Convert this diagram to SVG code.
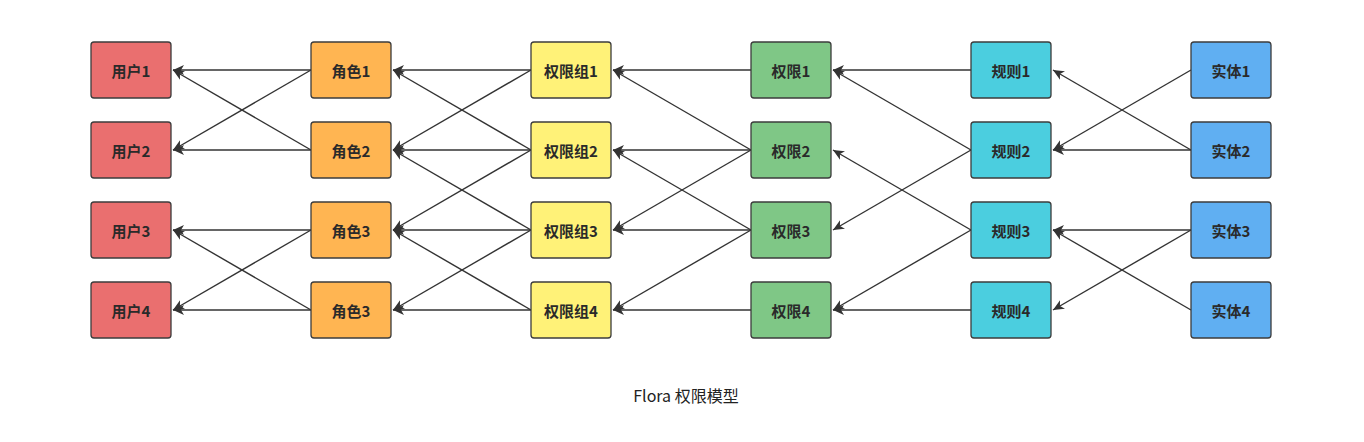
<svg xmlns="http://www.w3.org/2000/svg" width="1364" height="442" viewBox="0 0 1364 442">
<style>
.n{stroke:#3c3c3c;stroke-width:1.3}
.t{font-family:"Noto Sans CJK SC","Noto Sans",sans-serif;font-size:15px;font-weight:600;fill:#2a2a2a;text-anchor:middle;dominant-baseline:central}
.e line{stroke:#333;stroke-width:1.4;marker-end:url(#arr)}
.red{fill:#EA6F6F}.org{fill:#FFB552}.yel{fill:#FFF278}.grn{fill:#7FC786}.cyn{fill:#4BCEDF}.blu{fill:#60AFF2}
</style>
<defs>
<marker id="arr" markerUnits="userSpaceOnUse" markerWidth="12" markerHeight="10" refX="11" refY="5" orient="auto">
<path d="M0,0 L11,5 L0,10 L3,5 z" fill="#333"/>
</marker>
</defs>
<rect width="1364" height="442" fill="#fff"/>
<g id="connectors" class="e">
<line x1="311" y1="70" x2="173" y2="70"/>
<line x1="311" y1="70" x2="173" y2="150"/>
<line x1="311" y1="150" x2="173" y2="70"/>
<line x1="311" y1="150" x2="173" y2="150"/>
<line x1="311" y1="230" x2="173" y2="230"/>
<line x1="311" y1="230" x2="173" y2="310"/>
<line x1="311" y1="310" x2="173" y2="230"/>
<line x1="311" y1="310" x2="173" y2="310"/>
<line x1="531" y1="70" x2="393" y2="70"/>
<line x1="531" y1="70" x2="393" y2="150"/>
<line x1="531" y1="150" x2="393" y2="70"/>
<line x1="531" y1="150" x2="393" y2="150"/>
<line x1="531" y1="150" x2="393" y2="230"/>
<line x1="531" y1="230" x2="393" y2="150"/>
<line x1="531" y1="230" x2="393" y2="230"/>
<line x1="531" y1="230" x2="393" y2="310"/>
<line x1="531" y1="310" x2="393" y2="230"/>
<line x1="531" y1="310" x2="393" y2="310"/>
<line x1="751" y1="70" x2="613" y2="70"/>
<line x1="751" y1="150" x2="613" y2="70"/>
<line x1="751" y1="150" x2="613" y2="150"/>
<line x1="751" y1="150" x2="613" y2="230"/>
<line x1="751" y1="230" x2="613" y2="150"/>
<line x1="751" y1="230" x2="613" y2="230"/>
<line x1="751" y1="230" x2="613" y2="310"/>
<line x1="751" y1="310" x2="613" y2="310"/>
<line x1="971" y1="70" x2="833" y2="70"/>
<line x1="971" y1="150" x2="833" y2="70"/>
<line x1="971" y1="150" x2="833" y2="230"/>
<line x1="971" y1="230" x2="833" y2="150"/>
<line x1="971" y1="230" x2="833" y2="310"/>
<line x1="971" y1="310" x2="833" y2="310"/>
<line x1="1191" y1="70" x2="1053" y2="150"/>
<line x1="1191" y1="150" x2="1053" y2="70"/>
<line x1="1191" y1="150" x2="1053" y2="150"/>
<line x1="1191" y1="230" x2="1053" y2="230"/>
<line x1="1191" y1="230" x2="1053" y2="310"/>
<line x1="1191" y1="310" x2="1053" y2="230"/>
</g>
<g id="user1"><rect class="n red" x="91" y="42" width="80" height="56" rx="3"/><text class="t" x="131" y="70">用户1</text></g>
<g id="user2"><rect class="n red" x="91" y="122" width="80" height="56" rx="3"/><text class="t" x="131" y="150">用户2</text></g>
<g id="user3"><rect class="n red" x="91" y="202" width="80" height="56" rx="3"/><text class="t" x="131" y="230">用户3</text></g>
<g id="user4"><rect class="n red" x="91" y="282" width="80" height="56" rx="3"/><text class="t" x="131" y="310">用户4</text></g>
<g id="role1"><rect class="n org" x="311" y="42" width="80" height="56" rx="3"/><text class="t" x="351" y="70">角色1</text></g>
<g id="role2"><rect class="n org" x="311" y="122" width="80" height="56" rx="3"/><text class="t" x="351" y="150">角色2</text></g>
<g id="role3"><rect class="n org" x="311" y="202" width="80" height="56" rx="3"/><text class="t" x="351" y="230">角色3</text></g>
<g id="role4"><rect class="n org" x="311" y="282" width="80" height="56" rx="3"/><text class="t" x="351" y="310">角色3</text></g>
<g id="pgroup1"><rect class="n yel" x="531" y="42" width="80" height="56" rx="3"/><text class="t" x="571" y="70">权限组1</text></g>
<g id="pgroup2"><rect class="n yel" x="531" y="122" width="80" height="56" rx="3"/><text class="t" x="571" y="150">权限组2</text></g>
<g id="pgroup3"><rect class="n yel" x="531" y="202" width="80" height="56" rx="3"/><text class="t" x="571" y="230">权限组3</text></g>
<g id="pgroup4"><rect class="n yel" x="531" y="282" width="80" height="56" rx="3"/><text class="t" x="571" y="310">权限组4</text></g>
<g id="perm1"><rect class="n grn" x="751" y="42" width="80" height="56" rx="3"/><text class="t" x="791" y="70">权限1</text></g>
<g id="perm2"><rect class="n grn" x="751" y="122" width="80" height="56" rx="3"/><text class="t" x="791" y="150">权限2</text></g>
<g id="perm3"><rect class="n grn" x="751" y="202" width="80" height="56" rx="3"/><text class="t" x="791" y="230">权限3</text></g>
<g id="perm4"><rect class="n grn" x="751" y="282" width="80" height="56" rx="3"/><text class="t" x="791" y="310">权限4</text></g>
<g id="rule1"><rect class="n cyn" x="971" y="42" width="80" height="56" rx="3"/><text class="t" x="1011" y="70">规则1</text></g>
<g id="rule2"><rect class="n cyn" x="971" y="122" width="80" height="56" rx="3"/><text class="t" x="1011" y="150">规则2</text></g>
<g id="rule3"><rect class="n cyn" x="971" y="202" width="80" height="56" rx="3"/><text class="t" x="1011" y="230">规则3</text></g>
<g id="rule4"><rect class="n cyn" x="971" y="282" width="80" height="56" rx="3"/><text class="t" x="1011" y="310">规则4</text></g>
<g id="entity1"><rect class="n blu" x="1191" y="42" width="80" height="56" rx="3"/><text class="t" x="1231" y="70">实体1</text></g>
<g id="entity2"><rect class="n blu" x="1191" y="122" width="80" height="56" rx="3"/><text class="t" x="1231" y="150">实体2</text></g>
<g id="entity3"><rect class="n blu" x="1191" y="202" width="80" height="56" rx="3"/><text class="t" x="1231" y="230">实体3</text></g>
<g id="entity4"><rect class="n blu" x="1191" y="282" width="80" height="56" rx="3"/><text class="t" x="1231" y="310">实体4</text></g>
<text id="title" x="686" y="395" style="font-family:'Noto Sans CJK SC','Noto Sans',sans-serif;font-size:16px;font-weight:400;fill:#222;text-anchor:middle;dominant-baseline:central">Flora 权限模型</text>
</svg>
